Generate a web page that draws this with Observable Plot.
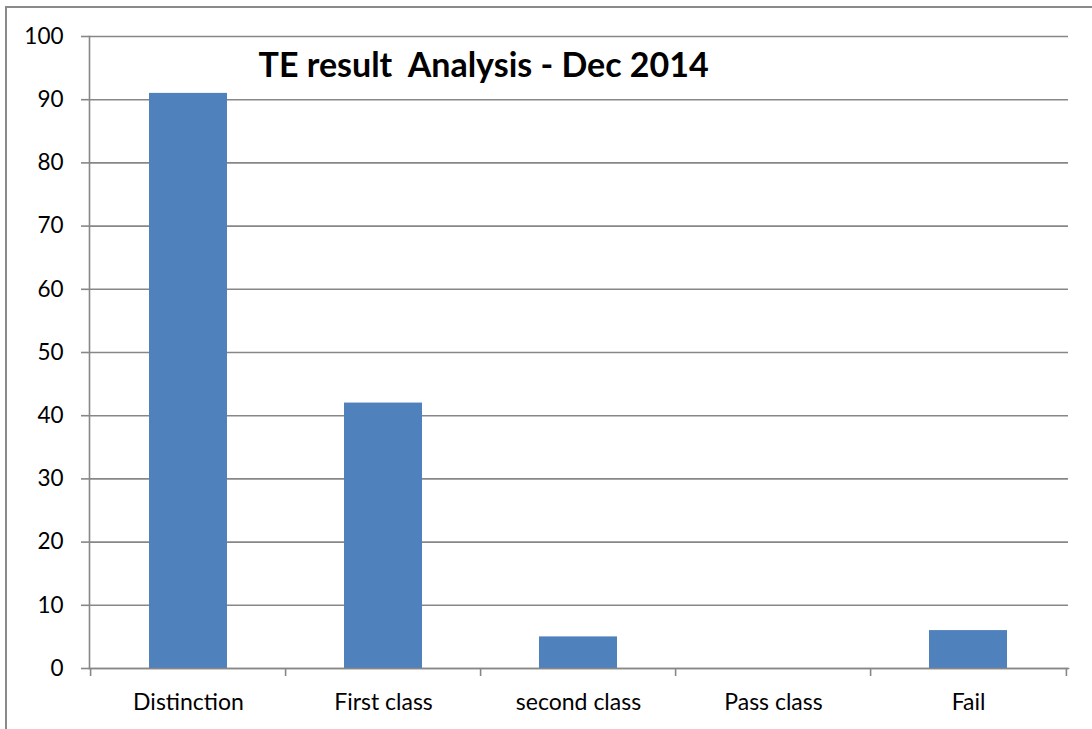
<!DOCTYPE html>
<html>
<head>
<meta charset="utf-8">
<script src="https://cdn.jsdelivr.net/npm/d3@7"></script>
<script src="https://cdn.jsdelivr.net/npm/@observablehq/plot@0.6"></script>
<style>
  html, body { margin: 0; padding: 0; background: #fff; overflow: hidden; }
  #wrap { position: relative; width: 1092px; height: 729px; }
  #border { position: absolute; left: 5px; top: 6px; width: 1100px; height: 740px;
            border-left: 2px solid #8a8a8a; border-top: 2px solid #8a8a8a; box-sizing: border-box; }
  #chart { position: absolute; left: 0; top: 0; }
</style>
</head>
<body>
<div id="wrap"><div id="border"></div><div id="chart"></div></div>
<script>
const title = "TE result  Analysis - Dec 2014";
const categories = ["Distinction", "First class", "second class", "Pass class", "Fail"];
const values = [91, 42, 5, 0, 6];
const yTicks = [0, 10, 20, 30, 40, 50, 60, 70, 80, 90, 100];

const data = categories.map((c, i) => ({category: c, value: values[i]}));

const W = 1092, H = 729, ML = 89, MR = 24, MT = 36, MB = 61;
const step = (W - ML - MR) / categories.length;
const grey = "#878787";
const font = "Lato, 'Open Sans', sans-serif";

const chart = Plot.plot({
  width: W,
  height: H,
  marginLeft: ML,
  marginRight: MR,
  marginTop: MT,
  marginBottom: MB,
  style: {fontFamily: font, fontSize: "23px", color: "#000", background: "transparent"},
  x: {domain: categories, paddingInner: 0.6, paddingOuter: 0.3, label: null},
  y: {domain: [0, 100], label: null},
  marks: [
    Plot.gridY(yTicks, {stroke: grey, strokeOpacity: 1, strokeWidth: 1.6}),
    Plot.barY(data, {x: "category", y: "value", fill: "#4F81BD"}),
    Plot.axisY(yTicks, {tickSize: 8, tickPadding: 18, stroke: grey, strokeWidth: 1.6, fontSize: 22.5, fill: "#000", label: null}),
    Plot.frame({anchor: "left", stroke: grey, strokeWidth: 1.6}),
    Plot.frame({anchor: "bottom", stroke: grey, strokeWidth: 1.6}),
    Plot.ruleX(categories, {x: d => d, dx: -step / 2, y1: 0, y2: 0, insetBottom: -8, stroke: grey, strokeWidth: 1.6}),
    Plot.ruleX(categories.slice(-1), {x: d => d, dx: step / 2, y1: 0, y2: 0, insetBottom: -8, stroke: grey, strokeWidth: 1.6}),
    Plot.axisX({tickSize: 0, tickPadding: 25, fontSize: 23, fill: "#000", label: null}),
    Plot.text([title], {frameAnchor: "top-left", textAnchor: "start", lineAnchor: "bottom",
      dx: 258 - ML, dy: 76 - MT, fontSize: 34, fontWeight: "bold", fill: "#000"})
  ]
});
document.getElementById("chart").appendChild(chart);
</script>
</body>
</html>
